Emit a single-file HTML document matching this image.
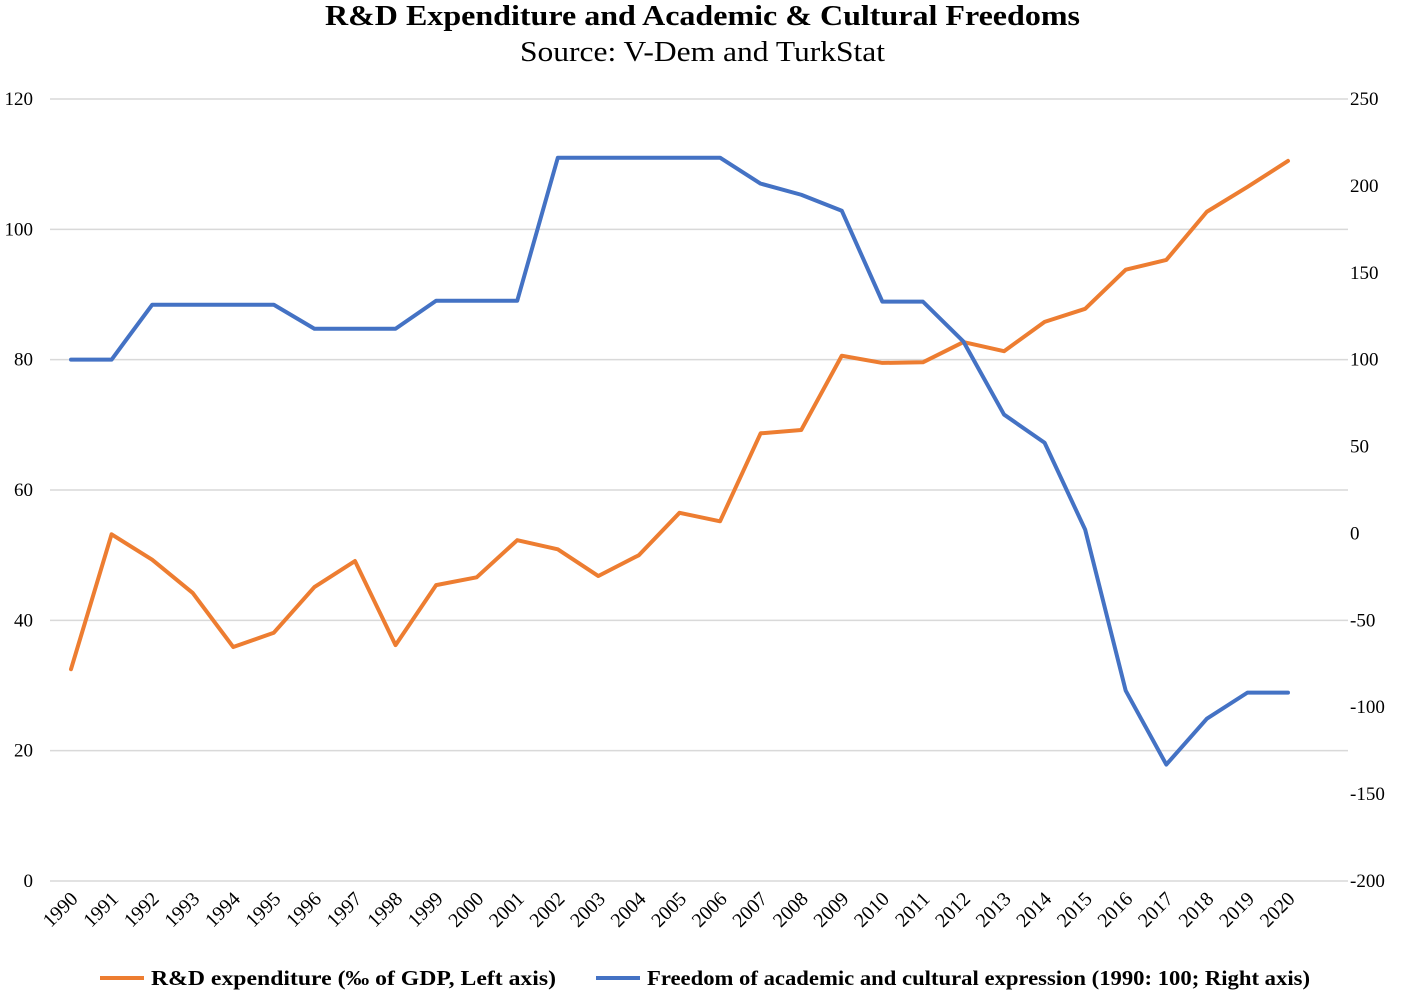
<!DOCTYPE html>
<html><head><meta charset="utf-8"><style>
html,body{margin:0;padding:0;background:#fff;}
svg{display:block;font-family:"Liberation Serif",serif;}
</style></head><body>
<svg id="chart" width="1405" height="998">
<text x="325" y="25" font-size="28" font-weight="bold" textLength="755" lengthAdjust="spacingAndGlyphs">R&amp;D Expenditure and Academic &amp; Cultural Freedoms</text>
<text x="520" y="61" font-size="29" textLength="365" lengthAdjust="spacingAndGlyphs">Source: V-Dem and TurkStat</text>
<g id="grid"></g><g id="lines"></g><g id="xlab"></g>
<g>
<line x1="100" y1="978" x2="144" y2="978" stroke="#ED7D31" stroke-width="4"/>
<text x="151" y="985" font-size="21" font-weight="bold" textLength="405" lengthAdjust="spacingAndGlyphs">R&amp;D expenditure (‰ of GDP, Left axis)</text>
<line x1="596" y1="978" x2="640" y2="978" stroke="#4472C4" stroke-width="4"/>
<text x="647" y="985" font-size="21" font-weight="bold" textLength="663" lengthAdjust="spacingAndGlyphs">Freedom of academic and cultural expression (1990: 100; Right axis)</text>
</g>
</svg>
<script>
const years=[1990,1991,1992,1993,1994,1995,1996,1997,1998,1999,2000,2001,2002,2003,2004,2005,2006,2007,2008,2009,2010,2011,2012,2013,2014,2015,2016,2017,2018,2019,2020];
const rdValues=[32.5,53.2,49.3,44.2,35.9,38.1,45.1,49.1,36.2,45.4,46.6,52.3,50.9,46.8,50.0,56.5,55.2,68.7,69.2,80.6,79.5,79.6,82.7,81.3,85.8,87.8,93.8,95.3,102.7,106.5,110.5];
const freedomValues=[100,100,131.6,131.6,131.6,131.6,117.8,117.8,117.8,133.9,133.9,133.9,216.2,216.2,216.2,216.2,216.2,201.3,194.9,185.7,133.4,133.4,110.4,68.4,52.2,2.2,-90.5,-133,-106.6,-91.6,-91.6];
const leftTicks=[0,20,40,60,80,100,120];
const rightTicks=[-200,-150,-100,-50,0,50,100,150,200,250];
const NS="http://www.w3.org/2000/svg";
const x=i=>71+i*(1288-71)/30;
const yL=v=>881-v*(881-99)/120;
const yR=v=>881-(v+200)*(881-99)/450;
function mk(t,a,p){const e=document.createElementNS(NS,t);for(const k in a)e.setAttribute(k,a[k]);p.appendChild(e);return e;}
const grid=document.getElementById('grid'),lines=document.getElementById('lines'),xlab=document.getElementById('xlab');
leftTicks.forEach(v=>{
 const l=mk('line',{x1:50,x2:1348,y1:yL(v),y2:yL(v),stroke:'#d9d9d9','stroke-width':1.5},grid);
 
 
 const t=mk('text',{x:33,y:yL(v)+6,'text-anchor':'end','font-size':19},grid);t.textContent=v;
 
 
});
rightTicks.forEach(v=>{
 const t=mk('text',{x:1350,y:yR(v)+6,'font-size':19},grid);t.textContent=v;
 
 
});
years.forEach((yr,i)=>{
 const t=mk('text',{x:x(i)+8,y:900,'text-anchor':'end','font-size':20,transform:`rotate(-45 ${x(i)+8} 900)`},xlab);t.textContent=yr;
 
 
});
const p1=mk('polyline',{points:rdValues.map((v,i)=>x(i)+','+yL(v)).join(' '),fill:'none',stroke:'#ED7D31','stroke-width':4,'stroke-linejoin':'round','stroke-linecap':'round'},lines);


const p2=mk('polyline',{points:freedomValues.map((v,i)=>x(i)+','+yR(v)).join(' '),fill:'none',stroke:'#4472C4','stroke-width':4,'stroke-linejoin':'round','stroke-linecap':'round'},lines);


</script>
</body></html>
